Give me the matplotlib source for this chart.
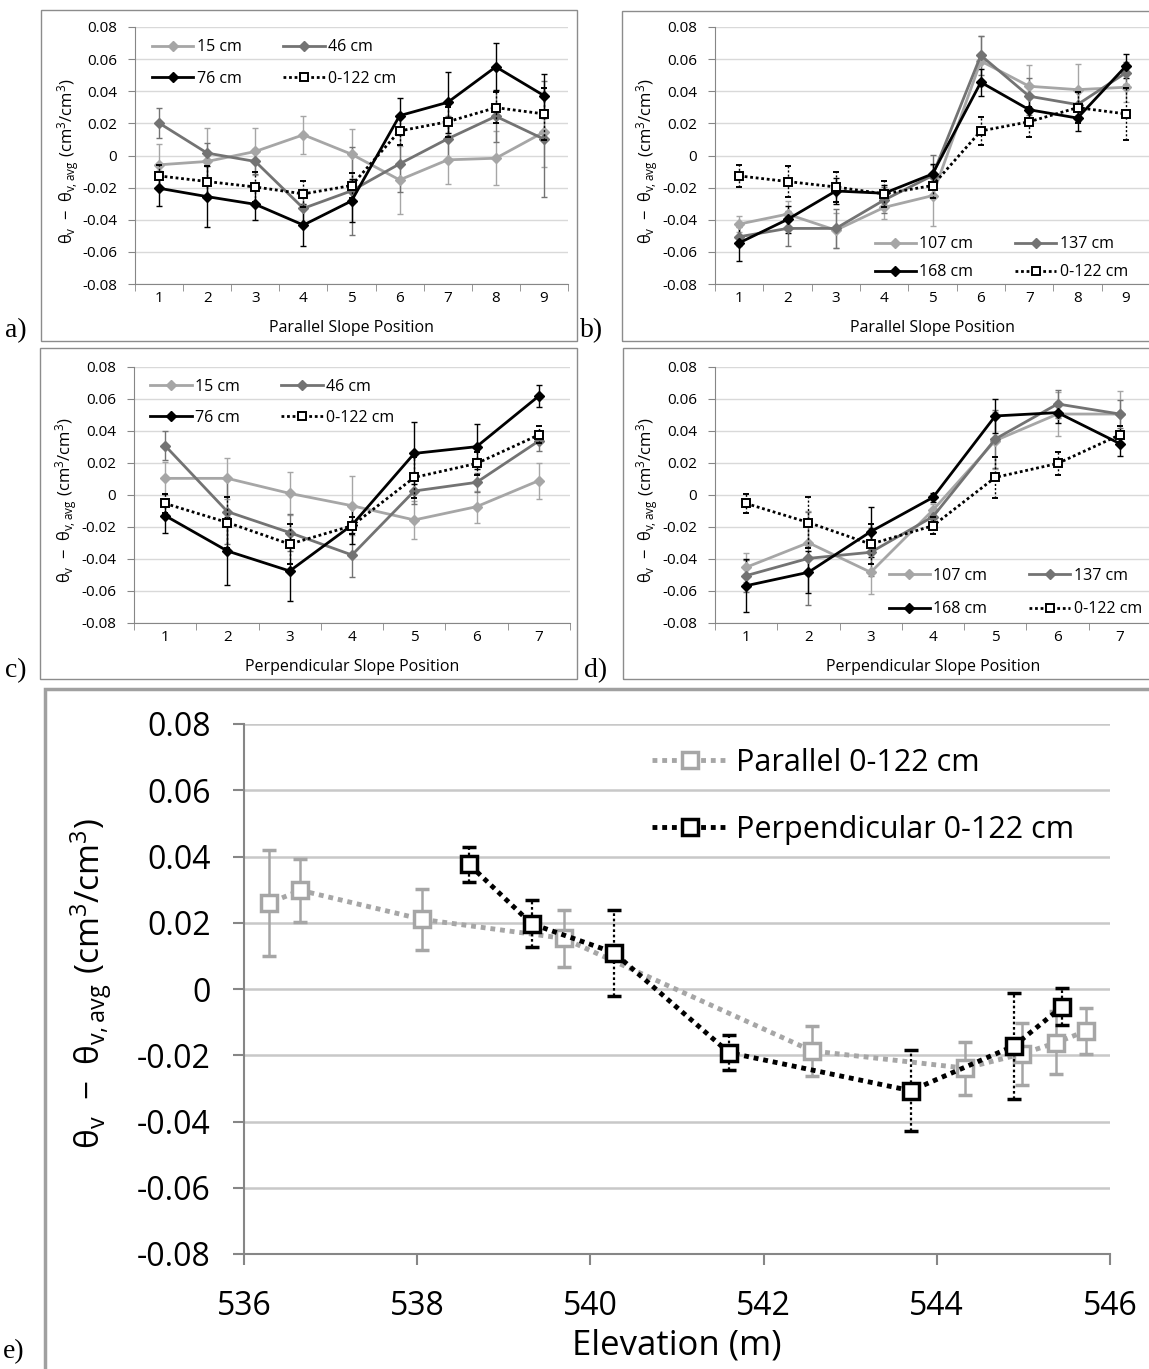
import numpy as np
import matplotlib
matplotlib.use('Agg')
import matplotlib.pyplot as plt
from matplotlib.lines import Line2D
from matplotlib.patches import Rectangle
from matplotlib.ticker import FixedLocator, FuncFormatter

plt.rcParams['font.family'] = ['Open Sans', 'DejaVu Sans']
plt.rcParams['mathtext.fontset'] = 'custom'
plt.rcParams['mathtext.rm'] = 'Open Sans'
plt.rcParams['mathtext.it'] = 'Open Sans'
plt.rcParams['axes.unicode_minus'] = False

# --- parallel transect, slope positions 1-9 ---
par_15 = [-0.0058, -0.0037, 0.0025, 0.0129, 0.0008, -0.0152, -0.0027, -0.0017, 0.0146]
par_15_err = [0.013, 0.0207, 0.0145, 0.012, 0.016, 0.021, 0.015, 0.0167, 0.0215]
par_46 = [0.0202, 0.0015, -0.0037, -0.0329, -0.022, -0.0052, 0.0104, 0.0244, 0.0102]
par_46_err = [0.0092, 0.006, 0.008, 0.010, 0.0276, 0.0177, 0.014, 0.0157, 0.036]
par_76 = [-0.0204, -0.0256, -0.0304, -0.0433, -0.0283, 0.0248, 0.0331, 0.0552, 0.0373]
par_76_err = [0.011, 0.019, 0.010, 0.013, 0.0134, 0.011, 0.019, 0.0146, 0.0137]
par_107 = [-0.0427, -0.0365, -0.0465, -0.0323, -0.025, 0.0588, 0.0431, 0.041, 0.0425]
par_107_err = [0.005, 0.008, 0.011, 0.0075, 0.019, 0.0155, 0.013, 0.0157, 0.009]
par_137 = [-0.0506, -0.0454, -0.0454, -0.0277, -0.0125, 0.0623, 0.0369, 0.0317, 0.0515]
par_137_err = [0.006, 0.011, 0.012, 0.008, 0.013, 0.012, 0.0115, 0.010, 0.007]
par_168 = [-0.0544, -0.0398, -0.0221, -0.0235, -0.0115, 0.0456, 0.0285, 0.0233, 0.0556]
par_168_err = [0.0112, 0.0083, 0.008, 0.005, 0.0063, 0.0084, 0.007, 0.008, 0.0073]
par_all = [-0.0127, -0.0162, -0.0196, -0.0239, -0.0187, 0.0153, 0.021, 0.0298, 0.0259]
par_all_err = [0.007, 0.0095, 0.0093, 0.008, 0.0075, 0.0086, 0.0092, 0.0095, 0.016]
par_elev = [545.72, 545.38, 544.98, 544.33, 542.56, 539.69, 538.06, 536.65, 536.29]

# --- perpendicular transect, slope positions 1-7 ---
perp_15 = [0.0104, 0.0104, 0.001, -0.0067, -0.0156, -0.0073, 0.009]
perp_15_err = [0.0104, 0.013, 0.0136, 0.0186, 0.012, 0.010, 0.0113]
perp_46 = [0.0308, -0.0104, -0.0235, -0.0375, 0.0025, 0.0079, 0.0338]
perp_46_err = [0.009, 0.02, 0.0115, 0.014, 0.008, 0.006, 0.006]
perp_76 = [-0.0129, -0.035, -0.0475, -0.0188, 0.026, 0.0302, 0.0619]
perp_76_err = [0.0106, 0.021, 0.0185, 0.012, 0.0194, 0.014, 0.007]
perp_107 = [-0.0452, -0.0298, -0.0483, -0.0094, 0.034, 0.0506, 0.0506]
perp_107_err = [0.009, 0.02, 0.0137, 0.004, 0.018, 0.014, 0.0146]
perp_137 = [-0.0504, -0.0396, -0.0358, -0.0135, 0.035, 0.0569, 0.0506]
perp_137_err = [0.01, 0.029, 0.015, 0.005, 0.018, 0.009, 0.009]
perp_168 = [-0.0567, -0.0483, -0.0229, -0.0015, 0.0494, 0.0515, 0.0321]
perp_168_err = [0.0167, 0.013, 0.0156, 0.003, 0.0106, 0.0067, 0.0077]
perp_all = [-0.0053, -0.0172, -0.0307, -0.0192, 0.011, 0.0197, 0.0376]
perp_all_err = [0.0057, 0.016, 0.0123, 0.0052, 0.013, 0.0071, 0.0054]
perp_elev = [545.45, 544.89, 543.70, 541.60, 540.27, 539.32, 538.60]

y_ticks = [-0.08, -0.06, -0.04, -0.02, 0, 0.02, 0.04, 0.06, 0.08]
elev_ticks = [536, 538, 540, 542, 544, 546]

LIGHT = '#a6a6a6'
MID = '#737373'
AXC = '#868686'
GRID = '#d9d9d9'
DOT = (0, (1, 1))
YLAB = r'$\mathregular{θ_v\ -\ θ_{v,avg}\ (cm^3/cm^3)}$'

W, H = 1149, 1369
fig = plt.figure(figsize=(W / 100, H / 100), dpi=100)


def add_ax(left, right, top, bottom):
    return fig.add_axes([left / W, 1 - bottom / H, (right - left) / W, (bottom - top) / H])


def yfmt(v, _):
    return '0' if abs(v) < 1e-9 else '%.2f' % v


def small_panel(ax, depths, labels, all_v, all_e, xlabel, leg_anchor, leg_loc, leg_space):
    n = len(all_v)
    pos = np.arange(1, n + 1)
    cols = [LIGHT, MID, 'black']
    handles = []
    for (v, e), c in zip(depths, cols):
        ax.errorbar(pos, v, yerr=e, color=c, lw=2, marker='D', ms=5, mfc=c, mec=c,
                    elinewidth=1, capsize=2.5, capthick=1, zorder=3)
        handles.append(Line2D([], [], color=c, lw=2, marker='D', ms=5))
    eb = ax.errorbar(pos, all_v, yerr=all_e, color='black', ls=DOT, lw=2, marker='s', ms=6,
                     mfc='white', mec='black', mew=1.4, elinewidth=1, capsize=2.5,
                     capthick=1, zorder=4)
    eb[2][0].set_linestyle((0, (1.5, 1.5)))
    handles.append(Line2D([], [], color='black', ls=DOT, lw=2, marker='s', ms=6,
                          mfc='white', mec='black', mew=1.4))

    ax.set_xlim(0.5, n + 0.5)
    ax.set_ylim(-0.08, 0.08)
    ax.yaxis.set_major_locator(FixedLocator(y_ticks))
    ax.yaxis.set_major_formatter(FuncFormatter(yfmt))
    ax.set_xticks(pos)
    ax.set_xticks(np.arange(0.5, n + 1), minor=True)
    ax.tick_params(axis='x', which='major', length=0, pad=5, labelsize=11)
    ax.tick_params(axis='x', which='minor', length=5, color=AXC)
    ax.tick_params(axis='y', length=5, color=AXC, pad=8, labelsize=11)
    ax.yaxis.grid(True, color=GRID, lw=1)
    ax.set_axisbelow(True)
    for s in ['top', 'right']:
        ax.spines[s].set_visible(False)
    for s in ['left', 'bottom']:
        ax.spines[s].set_color(AXC)

    ax.set_xlabel(xlabel, fontsize=11.5)
    ax.xaxis.set_label_coords(0.5, -0.17)
    ax.xaxis.label.set_va('center')
    ax.set_ylabel(YLAB, fontsize=12)
    ax.yaxis.set_label_coords(-0.155, 0.48)
    ax.yaxis.label.set_va('center')

    order = [0, 2, 1, 3]
    ax.legend([handles[i] for i in order], [labels[i] for i in order], ncol=2,
              loc=leg_loc, bbox_to_anchor=leg_anchor, frameon=False, fontsize=11.5,
              handlelength=2.6, handletextpad=0.2, columnspacing=2.6,
              labelspacing=leg_space, borderpad=0, borderaxespad=0, numpoints=1)


# a) parallel, shallow depths
ax_a = add_ax(135, 568, 27, 284)
small_panel(ax_a, [(par_15, par_15_err), (par_46, par_46_err), (par_76, par_76_err)],
            ['15 cm', '46 cm', '76 cm', '0-122 cm'], par_all, par_all_err,
            'Parallel Slope Position', (0.039, 0.952), 'upper left', 0.95)

# b) parallel, deep depths
ax_b = add_ax(715, 1150, 27, 284)
small_panel(ax_b, [(par_107, par_107_err), (par_137, par_137_err), (par_168, par_168_err)],
            ['107 cm', '137 cm', '168 cm', '0-122 cm'], par_all, par_all_err,
            'Parallel Slope Position', (0.949, 0.014), 'lower right', 0.75)

# c) perpendicular, shallow depths
ax_c = add_ax(134, 570, 367, 623)
small_panel(ax_c, [(perp_15, perp_15_err), (perp_46, perp_46_err), (perp_76, perp_76_err)],
            ['15 cm', '46 cm', '76 cm', '0-122 cm'], perp_all, perp_all_err,
            'Perpendicular Slope Position', (0.037, 0.955), 'upper left', 0.95)

# d) perpendicular, deep depths
ax_d = add_ax(715, 1151, 367, 623)
small_panel(ax_d, [(perp_107, perp_107_err), (perp_137, perp_137_err), (perp_168, perp_168_err)],
            ['107 cm', '137 cm', '168 cm', '0-122 cm'], perp_all, perp_all_err,
            'Perpendicular Slope Position', (0.979, 0.023), 'lower right', 1.1)

# e) 0-122 cm average vs elevation
ax_e = add_ax(244, 1110, 724, 1254)
ax_e.errorbar(par_elev, par_all, yerr=par_all_err, color=LIGHT, ls=DOT, lw=3.5,
              marker='s', ms=12, mfc='white', mec=LIGHT, mew=2.5, elinewidth=1.8,
              capsize=5, capthick=1.8, zorder=3)
eb = ax_e.errorbar(perp_elev, perp_all, yerr=perp_all_err, color='black', ls=DOT, lw=3.5,
                   marker='s', ms=12, mfc='white', mec='black', mew=2.5, elinewidth=1.6,
                   capsize=5, capthick=1.6, zorder=4)
eb[2][0].set_linestyle((0, (1.2, 1.2)))
ax_e.set_xlim(536, 546)
ax_e.set_ylim(-0.08, 0.08)
ax_e.xaxis.set_major_locator(FixedLocator(elev_ticks))
ax_e.yaxis.set_major_locator(FixedLocator(y_ticks))
ax_e.yaxis.set_major_formatter(FuncFormatter(yfmt))
ax_e.tick_params(axis='both', length=8, width=1.5, color=AXC, labelsize=23)
ax_e.tick_params(axis='x', pad=18)
ax_e.tick_params(axis='y', pad=16)
ax_e.yaxis.grid(True, color='#c8c8c8', lw=1.8)
ax_e.set_axisbelow(True)
for s in ['top', 'right']:
    ax_e.spines[s].set_visible(False)
for s in ['left', 'bottom']:
    ax_e.spines[s].set_color(AXC)
    ax_e.spines[s].set_linewidth(1.5)
ax_e.set_xlabel('Elevation (m)', fontsize=25)
ax_e.xaxis.set_label_coords(0.5, -0.172)
ax_e.xaxis.label.set_va('center')
ax_e.set_ylabel(YLAB, fontsize=24)
ax_e.yaxis.set_label_coords(-0.176, 0.51)
ax_e.yaxis.label.set_va('center')
h_par = Line2D([], [], color=LIGHT, ls=DOT, lw=3.5, marker='s', ms=12, mfc='white',
               mec=LIGHT, mew=2.5)
h_perp = Line2D([], [], color='black', ls=DOT, lw=3.5, marker='s', ms=12, mfc='white',
                mec='black', mew=2.5)
ax_e.legend([h_par, h_perp], ['Parallel 0-122 cm', 'Perpendicular 0-122 cm'],
            loc='upper left', bbox_to_anchor=(0.471, 0.955), frameon=False, fontsize=22,
            handlelength=2.5, handletextpad=0.25, labelspacing=1.2, borderpad=0,
            borderaxespad=0, numpoints=1)

# panel frames
def frame(left, top, right, bottom, lw=1.0, color='#8c8c8c'):
    fig.add_artist(Rectangle((left / W, 1 - bottom / H), (right - left) / W, (bottom - top) / H,
                             transform=fig.transFigure, fill=False, ec=color, lw=lw))

frame(41, 10, 577, 341)
frame(622, 11, 1160, 341)
frame(40, 348, 577, 679)
frame(623, 348, 1160, 679)
frame(45, 689, 1160, 1380, lw=2.5, color='#a0a0a0')

# panel letters
for txt, x, y in [('a)', 5, 331), ('b)', 580, 331), ('c)', 5, 671), ('d)', 584, 671), ('e)', 3, 1352)]:
    fig.text(x / W, 1 - y / H, txt, family=['Liberation Serif', 'DejaVu Serif'], fontsize=20,
             ha='left', va='center')

fig.savefig('out.png', dpi=100)
